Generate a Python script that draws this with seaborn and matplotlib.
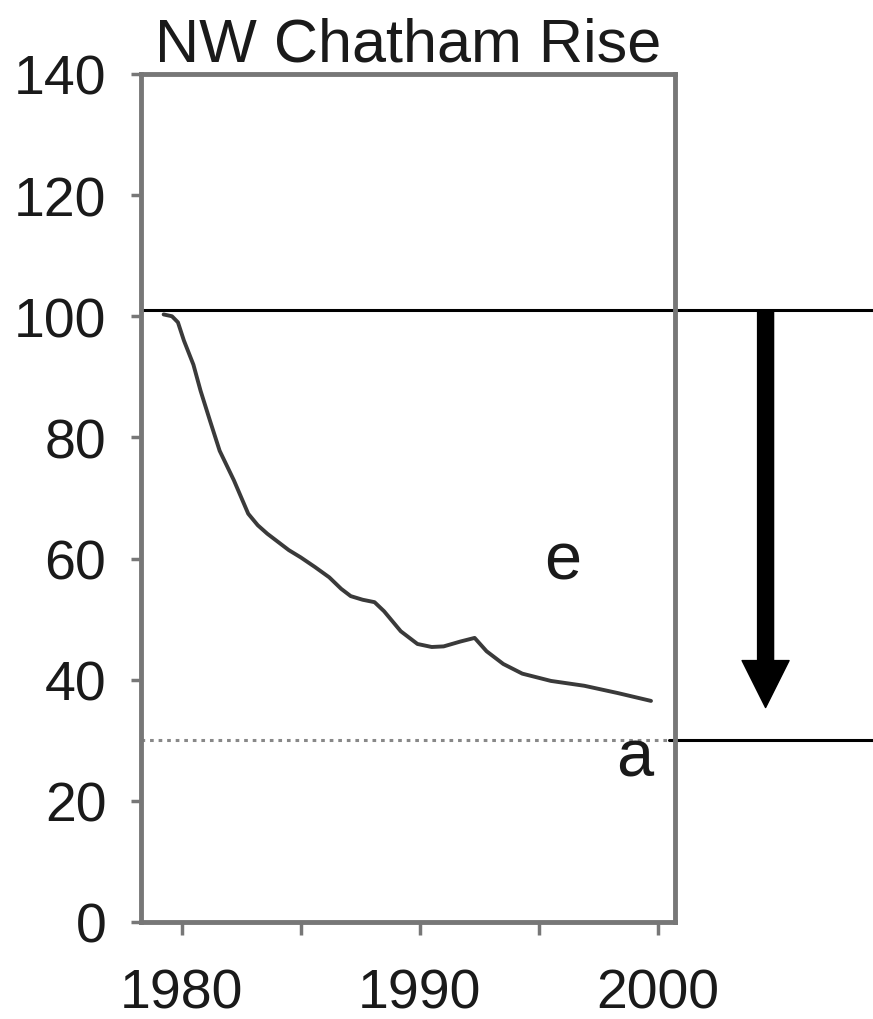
import numpy as np
import pandas as pd
import matplotlib
matplotlib.use('Agg')
import matplotlib.pyplot as plt
import seaborn as sns

# ==========================================
# DATA
# ==========================================
years = [1979.25, 1979.6, 1979.85, 1980.1, 1980.5, 1980.8, 1981.2, 1981.6, 1982.2,
         1982.8, 1983.2, 1983.6, 1984.5, 1985.0, 1985.6, 1986.2, 1986.7, 1987.1,
         1987.6, 1988.1, 1988.5, 1989.2, 1989.9, 1990.5, 1991.0, 1991.7, 1992.3,
         1992.8, 1993.5, 1994.3, 1995.5, 1996.9, 1998.3, 1999.7]
biomass = [100.3, 100.0, 99.0, 96.0, 92.0, 87.7, 82.7, 77.8, 72.9,
           67.4, 65.5, 64.1, 61.4, 60.2, 58.6, 56.9, 55.0, 53.8,
           53.2, 52.8, 51.3, 48.0, 45.9, 45.4, 45.5, 46.3, 46.9,
           44.7, 42.6, 41.0, 39.8, 39.0, 37.8, 36.5]

title = 'NW Chatham Rise'
start_level = 101
a_level = 30
arrow_tip = 35.4
y_ticks = [0, 20, 40, 60, 80, 100, 120, 140]
x_ticks = [1980, 1985, 1990, 1995, 2000]
x_tick_labels = ['1980', '', '1990', '', '2000']

df = pd.DataFrame({'year': years, 'biomass': biomass})

# ==========================================
# PLOT
# ==========================================
sns.set_style('ticks')
plt.rcParams['font.family'] = ['Liberation Sans', 'DejaVu Sans']

fig = plt.figure(figsize=(8.73, 10.2), dpi=100)
ax = fig.add_axes([0.1615, 0.0951, 0.6115, 0.8314])

sns.lineplot(data=df, x='year', y='biomass', sort=False, color='#3a3a3a',
             linewidth=2.8, ax=ax)

# dotted 'a' level inside the axes
ax.axhline(a_level, xmin=0, xmax=1, color='#888888', linestyle=(0, (1.2, 1.6)),
           linewidth=2.2)

# solid reference lines running off to the right
ax.axhline(start_level, xmin=0, xmax=1.371, color='black', linewidth=2.2,
           clip_on=False)
ax.axhline(a_level, xmin=0.99, xmax=1.371, color='black', linewidth=2.2,
           clip_on=False)

# big downward arrow
ax.annotate('', xy=(1.17, arrow_tip), xytext=(1.17, start_level),
            xycoords=ax.get_yaxis_transform(), textcoords=ax.get_yaxis_transform(),
            annotation_clip=False,
            arrowprops=dict(arrowstyle='simple,head_length=0.846,head_width=0.846,tail_width=0.288',
                            mutation_scale=40, color='black', shrinkA=0, shrinkB=0))

ax.text(1996.0, 59.5, 'e', fontsize=48, ha='center', va='center', color='#1a1a1a')
ax.text(1999.0, 27, 'a', fontsize=48, ha='center', va='center', color='#1a1a1a')

ax.set_xlim(1978.3, 2000.7)
ax.set_ylim(0, 140)
ax.set_yticks(y_ticks)
ax.set_xticks(x_ticks)
ax.set_xticklabels(x_tick_labels)
ax.set_xlabel('')
ax.set_ylabel('')
ax.set_title(title, fontsize=44, pad=10, color='#1a1a1a')

for s in ax.spines.values():
    s.set_color('#777777')
    s.set_linewidth(3.5)
ax.tick_params(axis='y', length=7, width=2.5, color='#777777', labelsize=40,
               pad=18, labelcolor='#1a1a1a')
ax.tick_params(axis='x', length=9, width=2.5, color='#777777', labelsize=40,
               pad=24, labelcolor='#1a1a1a')

fig.savefig('out.png', dpi=100)
